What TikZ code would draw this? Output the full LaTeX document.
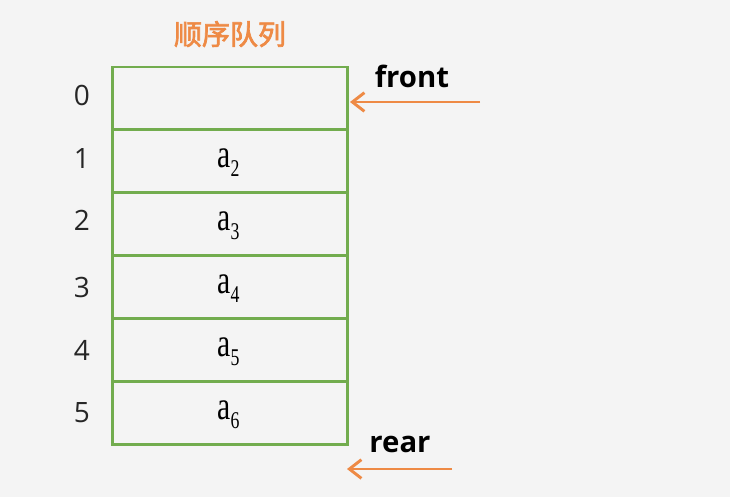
\documentclass[tikz,border=0pt]{standalone}
\usepackage{fontspec}
\setmainfont{Liberation Serif}
\newfontfamily\cjkbold[FakeBold=2.5]{Noto Sans CJK SC}
\newfontfamily\lblsans{Open Sans}
\usetikzlibrary{arrows.meta}
\definecolor{bgc}{HTML}{F4F4F4}
\definecolor{cellgreen}{HTML}{72AC4E}
\definecolor{arrorange}{HTML}{EE8A45}
\newcommand{\elem}[1]{\scalebox{0.74}[1]{\fontsize{30}{30}\selectfont a\raisebox{-0.5ex}{\fontsize{18}{18}\selectfont #1}}}
\begin{document}
\begin{tikzpicture}[x=0.75pt,y=-0.75pt,
  cellbox/.style={draw=cellgreen,line width=1.9pt,minimum width=176.5pt,minimum height=47.2pt,inner sep=0pt,anchor=north west},
  idxlabel/.style={font=\lblsans\fontsize{21}{21}\selectfont,text=black!85},
  ptrlabel/.style={font=\lblsans\bfseries\fontsize{22}{22}\selectfont,text=black},
  ptrarrow/.style={draw=arrorange,line width=2.2pt,-{Straight Barb[length=9pt,width=14pt,line width=2.2pt]}},
]
\fill[bgc] (0,0) rectangle (730,497);
\useasboundingbox (0,0) rectangle (730,497);

\node[font=\cjkbold\fontsize{21}{21}\selectfont,text=arrorange] (title) at (230,34) {顺序队列};

\node[cellbox] (c0) at (111,65.5) {};
\node[cellbox] (c1) at (111,128.5) {};
\node[cellbox] (c2) at (111,191.5) {};
\node[cellbox] (c3) at (111,254.5) {};
\node[cellbox] (c4) at (111,317.5) {};
\node[cellbox] (c5) at (111,380.5) {};
\node (a2) at ([xshift=-1pt,yshift=-1pt]c1.center) {\elem{2}};
\node (a3) at ([xshift=-1pt,yshift=-1pt]c2.center) {\elem{3}};
\node (a4) at ([xshift=-1pt,yshift=-1pt]c3.center) {\elem{4}};
\node (a5) at ([xshift=-1pt,yshift=-1pt]c4.center) {\elem{5}};
\node (a6) at ([xshift=-1pt,yshift=-1pt]c5.center) {\elem{6}};

\node[idxlabel] (i0) at (82,95) {0};
\node[idxlabel] (i1) at (82,158) {1};
\node[idxlabel] (i2) at (82,220) {2};
\node[idxlabel] (i3) at (82,287) {3};
\node[idxlabel] (i4) at (82,350) {4};
\node[idxlabel] (i5) at (82,413) {5};

\node[ptrlabel] (front) at (412,76) {front};
\node[ptrlabel] (rear) at (400,444) {rear};

\coordinate (fs) at (480,102);
\coordinate (fe) at (350,102);
\coordinate (rs) at (452,469);
\coordinate (re) at (347,469);
\draw[ptrarrow] (fs) -- (fe);
\draw[ptrarrow] (rs) -- (re);
\end{tikzpicture}
\end{document}
